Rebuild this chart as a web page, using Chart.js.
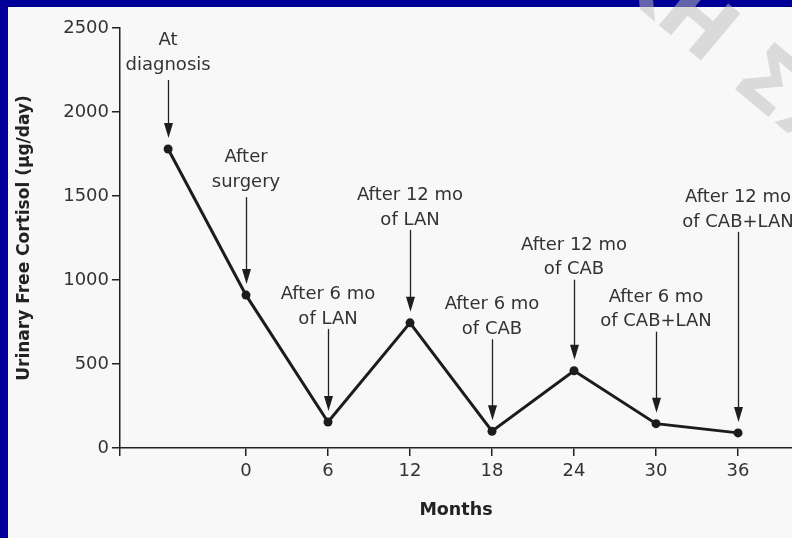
<!DOCTYPE html>
<html>
<head>
<meta charset="utf-8">
<script src="https://cdn.jsdelivr.net/npm/chart.js@4.4.1/dist/chart.umd.min.js"></script>
<style>
  html, body { margin: 0; padding: 0; background: #000099; overflow: hidden; }
  #wrap { position: relative; width: 792px; height: 538px; }
</style>
</head>
<body>
<div id="wrap"><canvas id="cortisolChart" width="792" height="538"></canvas></div>
<script>
// values
const months = [-5.7, 0, 6, 12, 18, 24, 30, 36];
const cortisol = [1780, 910, 155, 745, 100, 460, 145, 90];
const monthTicks = [0, 6, 12, 18, 24, 30, 36];
const cortisolTicks = [0, 500, 1000, 1500, 2000, 2500];
const eventLabels = [
  ['At', 'diagnosis'],
  ['After', 'surgery'],
  ['After 6 mo', 'of LAN'],
  ['After 12 mo', 'of LAN'],
  ['After 6 mo', 'of CAB'],
  ['After 12 mo', 'of CAB'],
  ['After 6 mo', 'of CAB+LAN'],
  ['After 12 mo', 'of CAB+LAN']
];

const xMin = -9.22, xMax = 39.95;
const FONT = '"DejaVu Sans", sans-serif';

// light panel behind the chart, navy frame shows at top/left
const panel = {
  id: 'panel',
  beforeDraw(chart) {
    const ctx = chart.ctx;
    ctx.save();
    ctx.fillStyle = '#f8f8f8';
    ctx.fillRect(8, 7, chart.width - 8, chart.height - 7);
    ctx.restore();
  }
};

// text + arrow above every point
const eventArrows = {
  id: 'eventArrows',
  afterDatasetsDraw(chart, args, opts) {
    const ctx = chart.ctx;
    const meta = chart.getDatasetMeta(0);
    ctx.save();
    ctx.font = '18px ' + FONT;
    ctx.textAlign = 'center';
    ctx.textBaseline = 'middle';
    eventLabels.forEach((lines, i) => {
      const pt = meta.data[i];
      const x = Math.round(pt.x) + 0.5;
      const tipY = pt.y - opts.tipGap;
      const line2Y = tipY - opts.labelRise[i];
      const startY = line2Y + (/[gpqy]/.test(lines[1]) ? 15 : 10);
      ctx.fillStyle = '#333';
      ctx.fillText(lines[0], pt.x, line2Y - 24.5);
      ctx.fillText(lines[1], pt.x, line2Y);
      ctx.strokeStyle = '#222';
      ctx.lineWidth = 1.3;
      ctx.beginPath();
      ctx.moveTo(x, startY);
      ctx.lineTo(x, tipY - 12);
      ctx.stroke();
      ctx.fillStyle = '#1e1e1e';
      ctx.beginPath();
      ctx.moveTo(x - 4.5, tipY - 15);
      ctx.lineTo(x + 4.5, tipY - 15);
      ctx.lineTo(x, tipY);
      ctx.closePath();
      ctx.fill();
    });
    ctx.restore();
  }
};

// faint watermark in the top right corner
const watermark = {
  id: 'watermark',
  afterDraw(chart) {
    const ctx = chart.ctx;
    ctx.save();
    ctx.translate(694, 26);
    ctx.rotate(40 * Math.PI / 180);
    ctx.font = 'bold 84px ' + FONT;
    ctx.fillStyle = 'rgba(190,190,190,0.52)';
    ctx.textBaseline = 'middle';
    const pre = ctx.measureText('Κ').width;
    const h = ctx.measureText('Η').width;
    ctx.fillText('ΚΗ ΣΧ', -pre - h / 2, 0);
    ctx.restore();
  }
};

const ctx = document.getElementById('cortisolChart').getContext('2d');
new Chart(ctx, {
  type: 'line',
  data: {
    datasets: [{
      data: months.map((m, i) => ({ x: m, y: cortisol[i] })),
      borderColor: '#1c1c1c',
      borderWidth: 3,
      pointRadius: 4.5,
      pointBackgroundColor: '#1c1c1c',
      pointBorderWidth: 0,
      tension: 0
    }]
  },
  plugins: [panel, eventArrows, watermark],
  options: {
    responsive: false,
    animation: false,
    layout: { autoPadding: false, padding: { left: 8, top: 28, right: 0, bottom: 0 } },
    plugins: {
      legend: { display: false },
      tooltip: { enabled: false },
      eventArrows: {
        tipGap: 11,
        labelRise: [73, 102, 92, 92, 91, 90, 91, 200]
      }
    },
    scales: {
      x: {
        type: 'linear',
        min: xMin,
        max: xMax,
        afterBuildTicks: (scale) => {
          scale.ticks = [xMin, ...monthTicks].map(v => ({ value: v }));
        },
        afterFit: (scale) => {
          scale.height = 90;
          scale.paddingLeft = 0;
          scale.paddingRight = 0;
        },
        ticks: {
          autoSkip: false,
          maxRotation: 0,
          padding: 5,
          color: '#333',
          font: { family: FONT, size: 18 },
          callback: (v) => monthTicks.includes(v) ? String(v) : ''
        },
        grid: { drawOnChartArea: false, tickLength: 8, color: '#222', lineWidth: 1.5 },
        border: { color: '#222', width: 1.5 },
        title: {
          display: true,
          text: 'Months',
          color: '#222',
          font: { family: FONT, size: 17.5, weight: 'bold' },
          padding: { top: 0, bottom: 17 }
        }
      },
      y: {
        min: 0,
        max: 2500,
        afterBuildTicks: (scale) => {
          scale.ticks = cortisolTicks.map(v => ({ value: v }));
        },
        afterFit: (scale) => { scale.width = 112; },
        ticks: {
          padding: 3,
          color: '#333',
          font: { family: FONT, size: 18 },
          callback: (v) => String(v)
        },
        grid: { drawOnChartArea: false, tickLength: 8, color: '#222', lineWidth: 1.5 },
        border: { color: '#222', width: 1.5 },
        title: {
          display: true,
          text: 'Urinary Free Cortisol (μg/day)',
          color: '#222',
          font: { family: FONT, size: 17, weight: 'bold' },
          padding: { top: 6, bottom: 0 }
        }
      }
    }
  }
});
</script>
</body>
</html>
